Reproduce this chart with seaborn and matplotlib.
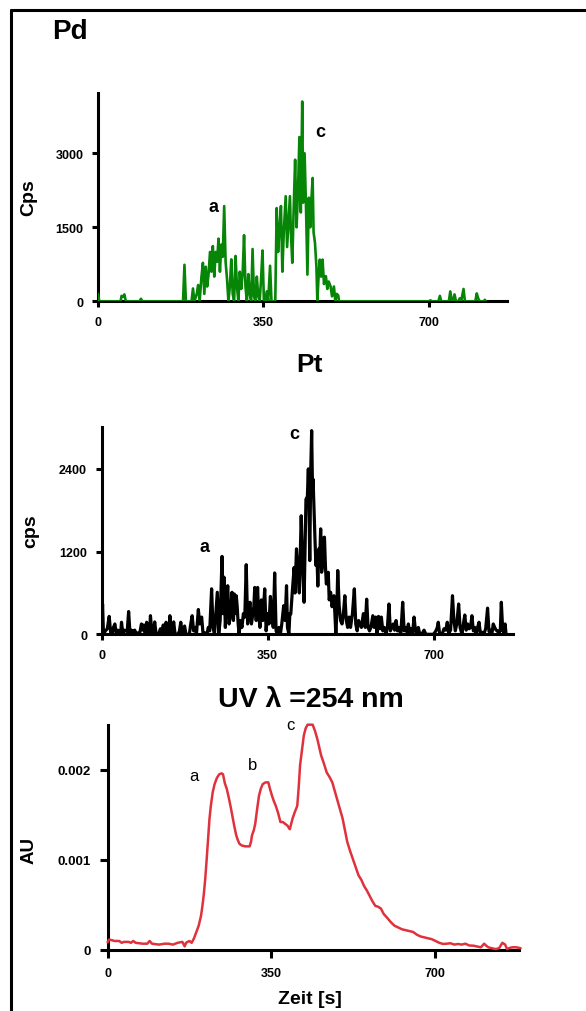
import numpy as np
import pandas as pd
import matplotlib
matplotlib.use("Agg")
import matplotlib.pyplot as plt
from matplotlib.lines import Line2D
import seaborn as sns

# --- Pd (ICP-MS, Cps) ---
pd_time = [0, 3, 48, 50, 53, 56, 59, 88, 91, 94,
           180, 183, 186, 198, 201, 204, 209, 212, 215, 219,
           222, 225, 228, 231, 234, 237, 240, 243, 246, 249,
           252, 255, 258, 261, 264, 267, 270, 273, 276, 279,
           282, 285, 288, 291, 294, 297, 300, 303, 306, 309,
           312, 315, 318, 321, 324, 327, 330, 333, 336, 339,
           342, 345, 348, 351, 354, 357, 360, 364, 367, 372,
           375, 378, 381, 384, 387, 390, 393, 397, 400, 403,
           406, 408, 411, 414, 417, 420, 423, 426, 429, 432,
           434, 437, 440, 443, 446, 449, 451, 454, 456, 459,
           462, 464, 466, 469, 472, 475, 478, 482, 485, 488,
           492, 495, 499, 502, 505, 508, 510, 700, 703, 706,
           720, 723, 726, 742, 745, 748, 751, 754, 757, 762,
           765, 768, 770, 773, 776, 798, 801, 804, 807, 816,
           818, 820]
pd_cps = [150, 0, 0, 110, 90, 140, 0, 0, 50, 0,
          0, 740, 0, 0, 260, 0, 150, 330, 0, 500,
          780, 150, 700, 300, 550, 1000, 600, 1120, 500, 1000,
          800, 1270, 600, 1150, 900, 1930, 800, 450, 0, 300,
          850, 150, 0, 920, 300, 0, 600, 250, 550, 1340,
          300, 0, 550, 150, 0, 1060, 100, 0, 500, 100,
          0, 450, 1030, 0, 0, 200, 0, 720, 0, 0,
          0, 1890, 1000, 1500, 1930, 600, 1400, 2130, 1100, 1600,
          2130, 1400, 780, 1900, 2870, 1500, 2200, 3330, 1800, 4050,
          2000, 3000, 1900, 540, 2100, 1500, 2000, 2500, 1400, 1180,
          700, 0, 400, 845, 500, 845, 350, 510, 250, 400,
          300, 100, 300, 0, 150, 120, 0, 0, 20, 0,
          0, 110, 0, 0, 200, 20, 0, 140, 0, 0,
          60, 0, 100, 250, 0, 0, 160, 60, 0, 0,
          30, 0]

# --- Pt (ICP-MS, cps) ---
pt_time = [0, 2, 4, 8, 12, 16, 19, 22, 25, 28, 31, 34, 37, 40, 42, 45, 48, 51, 54, 57,
           60, 63, 66, 70, 73, 76, 80, 84, 87, 89, 92, 95, 98, 101, 103, 106, 109, 112, 115, 120,
           124, 127, 130, 133, 136, 139, 142, 144, 147, 150, 152, 155, 160, 164, 167, 170, 175, 178, 185, 188,
           191, 194, 197, 200, 204, 207, 211, 214, 218, 222, 225, 228, 232, 235, 238, 241, 244, 247, 250, 254,
           256, 258, 261, 263, 266, 269, 272, 275, 278, 280, 282, 284, 286, 288, 290, 293, 296, 299, 302, 305,
           308, 310, 313, 316, 319, 321, 323, 326, 329, 331, 334, 337, 340, 344, 347, 350, 353, 356, 359, 362,
           365, 368, 371, 374, 377, 380, 384, 387, 390, 392, 395, 397, 399, 402, 406, 408, 411, 414, 417, 421,
           424, 427, 429, 431, 434, 436, 438, 439, 441, 443, 445, 446, 448, 450, 452, 454, 456, 458, 460, 462,
           464, 466, 468, 470, 472, 474, 476, 478, 480, 483, 486, 490, 492, 494, 496, 498, 501, 504, 507, 510,
           513, 516, 519, 522, 525, 529, 533, 536, 539, 542, 545, 548, 552, 556, 559, 562, 565, 568, 572, 575,
           578, 581, 584, 587, 590, 593, 596, 600, 603, 606, 609, 612, 615, 618, 621, 624, 627, 631, 635, 638,
           641, 644, 647, 650, 653, 656, 659, 662, 665, 668, 671, 675, 680, 684, 690, 696, 700, 705, 708, 710,
           713, 718, 722, 726, 729, 732, 736, 740, 743, 746, 749, 753, 756, 760, 763, 766, 769, 772, 775, 778,
           781, 784, 787, 790, 793, 796, 799, 802, 806, 810, 814, 817, 820, 823, 826, 829, 832, 835, 838, 841,
           843, 846, 849, 851, 853]
pt_cps = [0, 440, 0, 50, 80, 260, 30, 0, 100, 150, 0, 60, 40, 0, 175, 0, 60, 50, 40, 330,
          0, 60, 40, 60, 0, 20, 0, 150, 60, 135, 0, 175, 50, 0, 270, 30, 0, 180, 0, 0,
          80, 0, 135, 0, 175, 30, 0, 270, 0, 80, 180, 0, 0, 40, 175, 0, 120, 0, 0, 150,
          270, 50, 100, 0, 360, 150, 250, 0, 20, 0, 100, 50, 660, 100, 0, 300, 610, 0, 200, 1130,
          300, 830, 100, 400, 705, 150, 300, 610, 200, 585, 300, 560, 400, 150, 0, 200, 100, 300, 250, 1010,
          150, 350, 465, 150, 300, 400, 680, 200, 680, 300, 100, 500, 200, 660, 50, 300, 150, 550, 300, 100,
          890, 50, 0, 100, 0, 150, 415, 200, 705, 100, 0, 300, 295, 600, 970, 600, 1240, 900, 600, 1720,
          1000, 465, 1200, 1960, 2000, 2400, 1600, 1070, 2350, 2955, 2000, 2250, 1800, 1380, 1000, 1190, 700, 1240, 1100, 1530,
          900, 1000, 1400, 1410, 1000, 730, 800, 900, 500, 610, 400, 560, 300, 0, 300, 925, 415, 200, 150, 300,
          560, 200, 100, 250, 100, 300, 660, 150, 50, 200, 150, 100, 300, 100, 510, 100, 50, 100, 270, 100,
          250, 0, 260, 80, 250, 50, 100, 0, 120, 440, 50, 100, 150, 60, 200, 50, 100, 0, 465, 50,
          100, 30, 150, 0, 80, 30, 250, 50, 0, 100, 0, 0, 60, 0, 0, 0, 0, 50, 100, 175,
          0, 0, 80, 60, 175, 20, 60, 560, 200, 50, 150, 440, 100, 0, 150, 280, 60, 150, 80, 100,
          270, 50, 100, 0, 100, 175, 0, 30, 0, 80, 380, 40, 60, 0, 150, 100, 60, 50, 0, 80,
          465, 50, 20, 150, 0]

# --- UV 254 nm (AU) ---
uv_time = [0, 3, 8, 15, 25, 30, 35, 45, 50, 55, 60, 75, 85, 90, 95, 110, 122, 130, 140, 150,
           160, 165, 168, 175, 180, 185, 190, 195, 200, 203, 206, 209, 212, 215, 218, 221, 225, 229, 234, 239,
           244, 247, 251, 255, 259, 263, 267, 271, 275, 278, 282, 287, 295, 304, 307, 309, 313, 316, 320, 324,
           328, 332, 338, 344, 348, 352, 356, 360, 365, 370, 375, 380, 385, 390, 393, 396, 400, 406, 409, 412,
           416, 420, 424, 428, 434, 439, 444, 449, 453, 457, 463, 469, 475, 481, 487, 493, 498, 503, 508, 513,
           519, 525, 531, 537, 543, 549, 555, 561, 567, 573, 579, 585, 591, 598, 606, 614, 622, 630, 638, 646,
           654, 662, 670, 678, 686, 694, 702, 710, 718, 726, 734, 742, 750, 758, 766, 774, 783, 790, 799, 806,
           810, 815, 822, 831, 838, 845, 851, 855, 859, 866, 875, 884]
uv_au = [0.000085, 0.000115, 0.00011, 0.0001, 0.0001, 0.00008, 0.00009, 0.00009, 0.00008, 0.0001,
         0.00008, 0.00007, 0.00007, 0.0001, 0.00007, 0.00006, 0.00007, 0.00007, 0.00006, 0.00008,
         0.00009, 0.00004, 0.00008, 0.0001, 0.00008, 0.00013, 0.0002, 0.00027, 0.00038, 0.00049,
         0.00062, 0.00079, 0.001, 0.00123, 0.00145, 0.0016, 0.00175, 0.00184, 0.00191, 0.00195,
         0.00196, 0.00195, 0.00185, 0.00179, 0.0017, 0.0016, 0.00149, 0.00138, 0.00128, 0.00123,
         0.00118, 0.00116, 0.00115, 0.00115, 0.0012, 0.00127, 0.00133, 0.0014, 0.00156, 0.00171,
         0.00179, 0.00184, 0.00186, 0.00186, 0.00178, 0.00171, 0.00165, 0.0016, 0.00152, 0.00142,
         0.00142, 0.0014, 0.00138, 0.00134, 0.0014, 0.00146, 0.00152, 0.0016, 0.0018, 0.00205,
         0.00222, 0.00238, 0.00246, 0.0025, 0.0025, 0.0025, 0.00243, 0.00234, 0.00225, 0.00216,
         0.00207, 0.00197, 0.00192, 0.00186, 0.00175, 0.00164, 0.00155, 0.00146, 0.00133, 0.0012,
         0.0011, 0.00101, 0.00092, 0.00083, 0.00078, 0.00071, 0.00066, 0.0006, 0.00054, 0.00049,
         0.00048, 0.00046, 0.0004, 0.00036, 0.00031, 0.00027, 0.00025, 0.00023, 0.00022, 0.00021,
         0.0002, 0.00017, 0.00015, 0.00014, 0.00013, 0.00012, 0.0001, 0.00008, 0.000067, 0.00007,
         0.000075, 0.00006, 0.000067, 0.00006, 0.00007, 0.00005, 0.000048, 0.00004, 0.00003, 0.00007,
         0.00005, 0.00003, 0.00002, 0.00001, 0.00002, 0.00008, 0.00006, 0.00001, 0.00002, 0.00003,
         0.00003, 0.00002]

x_ticks = [0, 350, 700]
pd_yticks = [0, 1500, 3000]
pt_yticks = [0, 1200, 2400]
uv_yticks = [0, 0.001, 0.002]
uv_yticklabels = ["0", "0.001", "0.002"]

W, H = 586, 1012
sns.set_theme(style="ticks")
plt.rcParams['font.family'] = ['Liberation Sans', 'DejaVu Sans']
plt.rcParams['text.color'] = 'black'
plt.rcParams['axes.labelcolor'] = 'black'

fig = plt.figure(figsize=(W / 100, H / 100), dpi=100)
fig.patch.set_facecolor('white')


def px_axes(left, top, right, bottom):
    return fig.add_axes([left / W, 1 - bottom / H, (right - left) / W, (bottom - top) / H])


def ftext(x, y, s, **kw):
    fig.text(x / W, 1 - y / H, s, ha='center', va='center', fontweight='bold',
             color='black', **kw)


def style_axis(ax, xmax, ymax, yticks, yticklabels=None, fs=9, yfs=9, tick_len=4.5):
    ax.set_xlim(0, xmax)
    ax.set_ylim(0, ymax)
    ax.set_xticks(x_ticks)
    ax.set_yticks(yticks)
    if yticklabels is not None:
        ax.set_yticklabels(yticklabels)
    ax.set_xlabel("")
    ax.set_ylabel("")
    sns.despine(ax=ax)
    for side in ['left', 'bottom']:
        ax.spines[side].set_linewidth(2.2)
        ax.spines[side].set_color('black')
    ax.tick_params(direction='out', length=tick_len, width=2.2, colors='black', pad=6)
    ax.tick_params(axis='x', labelsize=fs)
    ax.tick_params(axis='y', labelsize=yfs)
    for lbl in ax.get_xticklabels() + ax.get_yticklabels():
        lbl.set_fontweight('bold')
    ax.set_facecolor('white')


# Pd panel
ax1 = px_axes(97.9, 94.3, 507.5, 302.3)
sns.lineplot(x=pd_time, y=pd_cps, color='#078507', linewidth=1.9, estimator=None,
             ax=ax1, zorder=3)
style_axis(ax1, 866, 4216, pd_yticks)
ax1.text(244, 1930, "a", fontsize=13, fontweight='bold', ha='center', va='center')
ax1.text(470, 3450, "c", fontsize=13, fontweight='bold', ha='center', va='center')

# Pt panel
ax2 = px_axes(101.6, 428.3, 512.7, 635.3)
sns.lineplot(x=pt_time, y=pt_cps, color='black', linewidth=2.3, estimator=None,
             ax=ax2, zorder=3)
style_axis(ax2, 867, 3004, pt_yticks)
ax2.text(218, 1267, "a", fontsize=13, fontweight='bold', ha='center', va='center')
ax2.text(407, 2907, "c", fontsize=13, fontweight='bold', ha='center', va='center')

# UV panel
ax3 = px_axes(107.6, 725.7, 518.7, 951)
sns.lineplot(x=uv_time, y=uv_au, color='#e0323c', linewidth=1.8, estimator=None,
             ax=ax3, zorder=3)
for ln in ax3.get_lines():
    ln.set_clip_on(False)
style_axis(ax3, 880, 0.0025, uv_yticks, uv_yticklabels, fs=9, yfs=9.5, tick_len=6)
ax3.text(184, 0.00194, "a", fontsize=12, ha='center', va='center')
ax3.text(310, 0.00206, "b", fontsize=12, ha='center', va='center')
ax3.text(392, 0.00250, "c", fontsize=12, ha='center', va='center')

# titles and axis labels
fig.text(52 / W, 1 - 32 / H, "Pd", ha='left', va='center', fontsize=20,
         fontweight='bold', color='black')
ftext(310, 365, "Pt", fontsize=19)
ftext(311, 700, "UV λ =254 nm", fontsize=20.5)
ftext(29, 198, "Cps", fontsize=14, rotation=90)
ftext(31, 531, "cps", fontsize=14, rotation=90)
ftext(29, 850, "AU", fontsize=13.5, rotation=90)
ftext(310, 1000, "Zeit [s]", fontsize=14)

# outer frame (top and left edges)
fig.add_artist(Line2D([10.5 / W, 1.0], [1 - 10.5 / H, 1 - 10.5 / H], color='black', linewidth=2.2))
fig.add_artist(Line2D([10.5 / W, 10.5 / W], [0, 1 - 10.5 / H], color='black', linewidth=2.2))

fig.savefig("out.png", dpi=100, facecolor='white')
plt.close(fig)
